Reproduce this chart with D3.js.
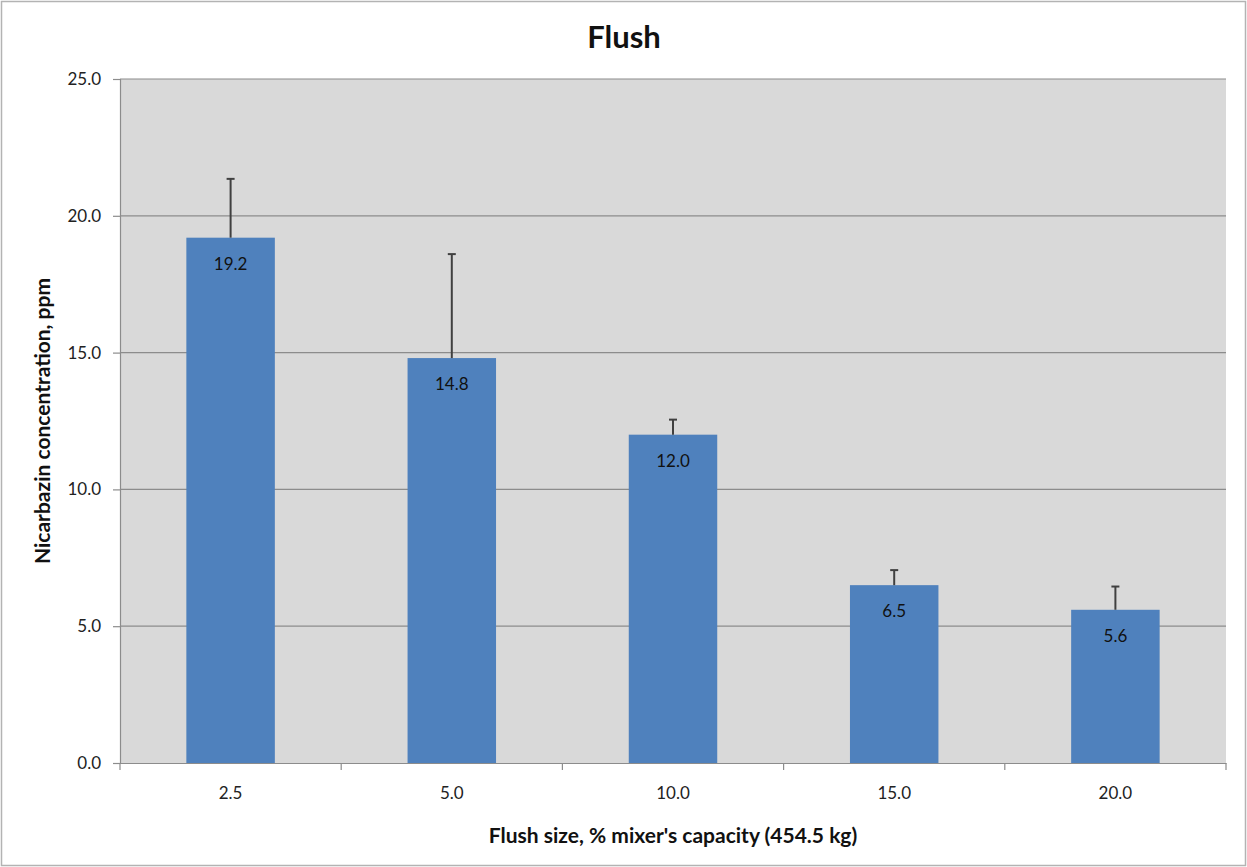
<!DOCTYPE html>
<html><head><meta charset="utf-8">
<script src="https://cdn.jsdelivr.net/npm/d3@7"></script>
<style>body{margin:0;background:#fff;} text{font-family:Lato,"Open Sans",sans-serif;}</style>
</head><body>
<svg id="c" width="1247" height="867"></svg>
<script>
const categories = ["2.5","5.0","10.0","15.0","20.0"];
const values = [19.2, 14.8, 12.0, 6.5, 5.6];
const errors = [2.15, 3.8, 0.55, 0.55, 0.85];
const yTicks = [0,5,10,15,20,25];

const svg = d3.select("#c");
const W=1247,H=867;
const m={l:120,r:21,t:79,b:104};
const pw=W-m.l-m.r, ph=H-m.t-m.b;

svg.append("rect").attr("x",1.5).attr("y",1.5).attr("width",W-3).attr("height",H-3)
  .attr("fill","#fff").attr("stroke","#b3b3b3").attr("stroke-width",1.5);

const x=d3.scaleBand().domain(categories).range([m.l,m.l+pw]).paddingInner(0.6).paddingOuter(0.3);
const xb=d3.scaleBand().domain(categories).range([m.l,m.l+pw]);
const y=d3.scaleLinear().domain([0,25]).range([m.t+ph,m.t]);

svg.append("rect").attr("x",m.l).attr("y",m.t).attr("width",pw).attr("height",ph).attr("fill","#d9d9d9");

svg.append("g").selectAll("line").data(yTicks.filter(d=>d>0)).join("line")
  .attr("x1",m.l).attr("x2",m.l+pw).attr("y1",d=>y(d)).attr("y2",d=>y(d))
  .attr("stroke","#8c8c8c").attr("stroke-width",1.2);

// y axis
const ya=svg.append("g").attr("transform",`translate(${m.l},0)`)
  .call(d3.axisLeft(y).tickValues(yTicks).tickFormat(d3.format(".1f")).tickSize(7).tickPadding(12));
ya.select(".domain").attr("stroke","#8c8c8c").attr("stroke-width",1.2);
ya.selectAll(".tick line").attr("stroke","#8c8c8c").attr("stroke-width",1.2);
ya.selectAll("text").attr("font-size",17).attr("fill","#222");

// x axis
const xa=svg.append("g").attr("transform",`translate(0,${m.t+ph})`)
  .call(d3.axisBottom(xb).tickSize(0).tickPadding(24));
xa.select(".domain").attr("stroke","#8c8c8c").attr("stroke-width",1.2);
xa.selectAll("text").attr("font-size",17).attr("fill","#222");
svg.append("g").selectAll("line").data(categories.concat(["end"])).join("line")
  .attr("x1",(d,i)=>m.l+i*xb.step()).attr("x2",(d,i)=>m.l+i*xb.step())
  .attr("y1",m.t+ph).attr("y2",m.t+ph+7).attr("stroke","#8c8c8c").attr("stroke-width",1.2);

// bars
svg.append("g").selectAll("rect").data(values).join("rect")
  .attr("x",(d,i)=>x(categories[i])).attr("width",x.bandwidth())
  .attr("y",d=>y(d)).attr("height",d=>y(0)-y(d)).attr("fill","#4f81bd");

// error bars
const eg=svg.append("g").attr("stroke","#404040").attr("stroke-width",2);
values.forEach((v,i)=>{
  const cx=x(categories[i])+x.bandwidth()/2;
  eg.append("line").attr("x1",cx).attr("x2",cx).attr("y1",y(v)).attr("y2",y(v+errors[i]));
  eg.append("line").attr("x1",cx-4).attr("x2",cx+4).attr("y1",y(v+errors[i])).attr("y2",y(v+errors[i]));
});

// labels
svg.append("g").selectAll("text").data(values).join("text")
  .attr("x",(d,i)=>x(categories[i])+x.bandwidth()/2).attr("y",d=>y(d)+32)
  .attr("text-anchor","middle").attr("font-size",17).attr("fill","#111")
  .text(d=>d3.format(".1f")(d));

svg.append("text").attr("x",624).attr("y",48).attr("text-anchor","middle")
  .attr("font-size",31).attr("font-weight","bold").attr("fill","#111").text("Flush");
svg.append("text").attr("x",m.l+pw/2).attr("y",843).attr("text-anchor","middle")
  .attr("font-size",21).attr("font-weight","bold").attr("fill","#111").text("Flush size, % mixer's capacity (454.5 kg)");
svg.append("text").attr("transform",`translate(50,${m.t+ph/2+0}) rotate(-90)`).attr("text-anchor","middle")
  .attr("font-size",21).attr("font-weight","bold").attr("fill","#111").text("Nicarbazin concentration, ppm");
</script>
</body></html>
